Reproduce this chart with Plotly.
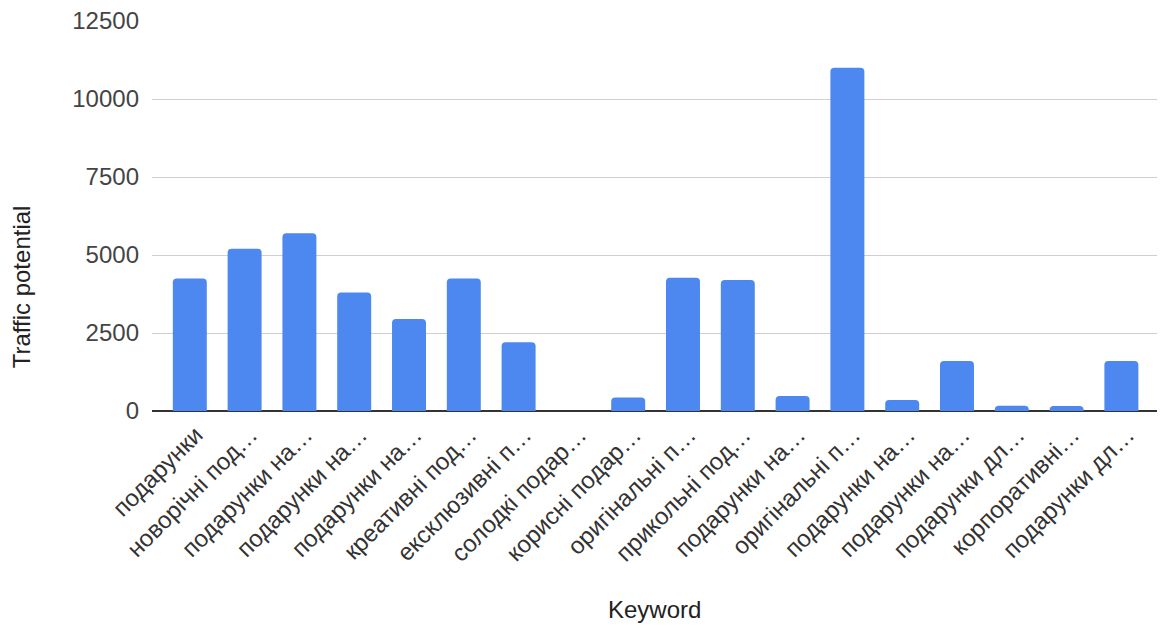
import plotly.graph_objects as go

keywords = [
    "подарунки", "новорічні под…", "подарунки на…", "подарунки на…",
    "подарунки на…", "креативні под…", "ексклюзивні п…", "солодкі подар…",
    "корисні подар…", "оригінальні п…", "прикольні под…", "подарунки на…",
    "оригінальні п…", "подарунки на…", "подарунки на…", "подарунки дл…",
    "корпоративні…", "подарунки дл…",
]
traffic_potential = [
    4250, 5200, 5700, 3800, 2950, 4250, 2200, 0, 430,
    4270, 4200, 480, 11000, 350, 1600, 170, 160, 1600,
]
y_ticks = [0, 2500, 5000, 7500, 10000, 12500]

positions = list(range(len(keywords)))

FONT = "Liberation Sans, Arial, sans-serif"

fig = go.Figure(
    go.Bar(
        x=positions,
        y=traffic_potential,
        marker=dict(color="#4c88ef", line=dict(width=0)),
        width=0.62,
        hoverinfo="y",
    )
)

fig.update_layout(
    width=1163,
    height=628,
    margin=dict(l=152, r=6, t=21, b=217),
    paper_bgcolor="white",
    plot_bgcolor="white",
    barcornerradius=4,
    showlegend=False,
    font=dict(family=FONT, size=22, color="#444444"),
    annotations=[
        dict(
            text="Traffic potential", xref="paper", yref="paper",
            x=-0.129, y=0.318, xanchor="center", yanchor="middle",
            textangle=-90, showarrow=False,
            font=dict(family=FONT, size=24, color="#222222"),
        ),
        dict(
            text="Keyword", xref="paper", yref="paper",
            x=0.5, y=-0.508, xanchor="center", yanchor="middle",
            showarrow=False,
            font=dict(family=FONT, size=24, color="#222222"),
        ),
    ],
)

fig.update_xaxes(
    tickmode="array",
    tickvals=positions,
    ticktext=keywords,
    tickangle=-45,
    range=[-0.69, 17.65],
    showgrid=False,
    showline=False,
    zeroline=False,
    ticks="",
    ticklabelstandoff=4,
    ticklabelshift=6,
    tickfont=dict(family=FONT, size=24, color="#333333"),
)

fig.update_yaxes(
    range=[0, 12500],
    tickmode="array",
    tickvals=y_ticks,
    ticktext=[str(v) for v in y_ticks],
    showgrid=True,
    gridcolor="#cfcfcf",
    gridwidth=1.4,
    zeroline=True,
    zerolinecolor="#333333",
    zerolinewidth=1.6,
    showline=False,
    ticks="",
    ticklabelstandoff=12,
    tickfont=dict(family=FONT, size=24, color="#444444"),
)

fig.write_html("out.html")
